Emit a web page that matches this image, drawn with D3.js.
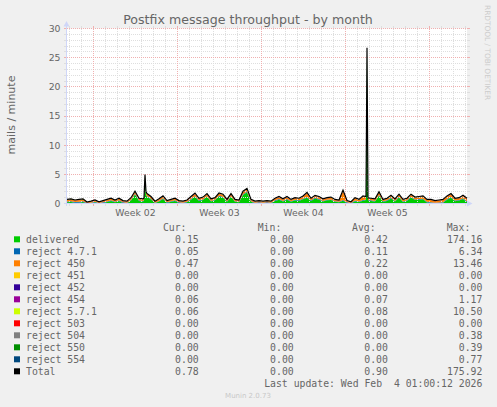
<!DOCTYPE html>
<html>
<head>
<meta charset="utf-8">
<script src="https://cdn.jsdelivr.net/npm/d3@7"></script>
<style>
  html,body{margin:0;padding:0;background:#f0f0f0;}
  svg{display:block;}
  text{font-family:"DejaVu Sans",sans-serif;fill:#666;}
  .mono{font-family:"DejaVu Sans Mono",monospace;white-space:pre;}
</style>
</head>
<body>
<svg id="chart" width="497" height="407"></svg>
<script>
// --- data (mails / minute, one sample every 8 hours) ---
var delivered = [0.2,0.25,0.13,0.15,0.26,0,0.05,0.2,0,0.1,
	0.25,0.45,0.2,0.45,0.1,0.05,0.5,1.55,0.45,0.35,
	1.2,0.7,0.07,0.35,0.76,0.1,0.3,0.45,0.1,0.05,
	0.2,0.66,1.17,0.45,0.6,1.14,0.35,0.55,1.19,1.04,
	0.3,1.14,0.3,0.2,1.47,1.92,0.3,0.05,0.1,0.05,
	0.1,0.05,0.45,0.66,0.35,0.66,0.3,0.55,0.45,0.71,
	1.0,0.45,0.86,0.66,0.35,0.55,0.6,0.3,0.2,0.47,
	0.1,0,0.4,0.25,0.46,25.97,0.45,0.35,1.32,0.3,
	0.45,0.86,0.35,1.04,0.25,0.45,1.04,0.6,0.66,0.71,
	0.16,0.11,0.05,0.06,0.11,0.66,0.99,0.4,0.5,0.76,
	0.26];
var reject471 = [0.15,0.15,0.12,0.15,0.12,0.08,0.1,0.1,0.08,0.1,
	0.1,0.1,0.1,0.1,0.1,0.1,0.12,0.12,0.1,0.1,
	0.1,0.1,0.08,0.1,0.12,0.1,0.1,0.1,0.1,0.1,
	0.1,0.12,0.12,0.1,0.1,0.12,0.1,0.1,0.12,0.12,
	0.1,0.12,0.1,0.1,0.12,0.12,0.1,0.1,0.1,0.1,
	0.1,0.1,0.1,0.12,0.1,0.12,0.1,0.1,0.1,0.12,
	0.12,0.1,0.12,0.12,0.1,0.1,0.1,0.1,0.1,0.15,
	0.1,0.08,0.1,0.1,0.12,0.15,0.1,0.1,0.12,0.1,
	0.1,0.12,0.1,0.12,0.1,0.1,0.12,0.1,0.12,0.12,
	0.12,0.12,0.1,0.12,0.12,0.12,0.12,0.1,0.1,0.12,
	0.12];
var reject450 = [0.25,0.3,0.25,0.3,0.3,0.1,0.15,0.2,0.12,0.2,
	0.25,0.25,0.2,0.25,0.2,0.15,0.25,0.3,0.25,0.25,
	0.3,0.3,0.15,0.25,0.3,0.2,0.2,0.25,0.2,0.15,
	0.2,0.3,0.35,0.25,0.3,0.3,0.25,0.25,0.35,0.3,
	0.2,0.3,0.2,0.2,0.35,0.4,0.2,0.15,0.2,0.15,
	0.2,0.15,0.25,0.3,0.25,0.3,0.2,0.25,0.25,0.35,
	0.6,0.25,0.3,0.3,0.25,0.25,0.3,0.2,0.2,1.5,
	0.2,0.12,0.4,0.25,0.6,0.4,0.25,0.25,0.4,0.2,
	0.25,0.3,0.25,0.3,0.25,0.25,0.3,0.3,0.3,0.35,
	0.3,0.35,0.25,0.3,0.35,0.4,0.45,0.3,0.3,0.4,
	0.4];
var reject454 = [0.05,0.05,0.05,0.05,0.06,0.03,0.05,0.05,0.05,0.05,
	0.05,0.05,0.05,0.05,0.05,0.05,0.06,0.06,0.05,0.05,
	0.05,0.05,0.05,0.05,0.06,0.05,0.05,0.05,0.05,0.05,
	0.05,0.06,0.06,0.05,0.05,0.06,0.05,0.05,0.06,0.06,
	0.05,0.06,0.05,0.05,0.06,0.06,0.05,0.05,0.05,0.05,
	0.05,0.05,0.05,0.06,0.05,0.06,0.05,0.05,0.05,0.06,
	0.06,0.05,0.06,0.06,0.05,0.05,0.05,0.05,0.05,0.08,
	0.05,0.05,0.05,0.05,0.06,0.08,0.05,0.05,0.06,0.05,
	0.05,0.06,0.05,0.06,0.05,0.05,0.06,0.05,0.06,0.06,
	0.06,0.06,0.05,0.06,0.06,0.06,0.06,0.05,0.05,0.06,
	0.06];
var reject571 = [0.05,0.05,0.05,0.05,0.06,0.04,0.05,0.05,0.05,0.05,
	0.05,0.05,0.05,0.05,0.05,0.05,0.06,0.08,0.05,0.05,
	0.05,0.05,0.05,0.05,0.06,0.05,0.05,0.05,0.05,0.05,
	0.05,0.06,0.1,0.05,0.05,0.08,0.05,0.05,0.08,0.08,
	0.05,0.08,0.05,0.05,0.1,0.1,0.05,0.05,0.05,0.05,
	0.05,0.05,0.05,0.06,0.05,0.06,0.05,0.05,0.05,0.06,
	0.12,0.05,0.06,0.06,0.05,0.05,0.05,0.05,0.05,0.1,
	0.05,0.05,0.05,0.05,0.06,0.1,0.05,0.05,0.1,0.05,
	0.05,0.06,0.05,0.08,0.05,0.05,0.08,0.05,0.06,0.06,
	0.06,0.06,0.05,0.06,0.06,0.06,0.08,0.05,0.05,0.06,
	0.06];

// extra 2-hourly samples around the two spikes (hours from start)
var extraHours     = [154,156,158,598,602];
var extraDelivered = [0.5,4.4,1.5,0.6,0.5];
var extra471       = [0.1,0.12,0.1,0.1,0.1];
var extra450       = [0.25,0.3,0.3,0.4,0.25];
var extra454       = [0.05,0.06,0.05,0.05,0.05];
var extra571       = [0.05,0.08,0.06,0.05,0.05];

var yTicks = [0,5,10,15,20,25,30];
var weekLabels = ['Week 02','Week 03','Week 04','Week 05'];

var legendNames = ['delivered','reject 4.7.1','reject 450','reject 451','reject 452','reject 454',
	'reject 5.7.1','reject 503','reject 504','reject 550','reject 554','Total'];
var legendColors = ['#00cc00','#0066b3','#ff8000','#ffcc00','#330099','#990099',
	'#ccff00','#ff0000','#808080','#008f00','#00487d','#000000'];
var curVals = ['0.15','0.05','0.47','0.00','0.00','0.06','0.06','0.00','0.00','0.00','0.00','0.78'];
var minVals = ['0.00','0.00','0.00','0.00','0.00','0.00','0.00','0.00','0.00','0.00','0.00','0.00'];
var avgVals = ['0.42','0.11','0.22','0.00','0.00','0.07','0.08','0.00','0.00','0.00','0.00','0.90'];
var maxVals = ['174.16','6.34','13.46','0.00','0.00','1.17','10.50','0.00','0.38','0.39','0.77','175.92'];

// --- setup ---
var svg = d3.select('#chart');
var HOUR = 3600*1000;
var t0 = new Date(Date.UTC(2026,0,1,19,0));
var t1 = new Date(t0.getTime() + 800*HOUR);

var xScale = d3.scaleUtc().domain([t0,t1]).range([67,467]);
var yScale = d3.scaleLinear().domain([0,30]).range([203.5,28.5]);

var stackKeys = ['delivered','reject471','reject450','reject454','reject571'];
var stackColors = ['#00cc00','#0066b3','#ff8000','#990099','#ccff00'];

var rows = delivered.map(function(d,i){
	return {
		t: new Date(t0.getTime() + i*8*HOUR),
		delivered: d,
		reject471: reject471[i],
		reject450: reject450[i],
		reject454: reject454[i],
		reject571: reject571[i]
	};
});
extraHours.forEach(function(h,i){
	rows.push({
		t: new Date(t0.getTime() + h*HOUR),
		delivered: extraDelivered[i],
		reject471: extra471[i],
		reject450: extra450[i],
		reject454: extra454[i],
		reject571: extra571[i]
	});
});
rows.sort(function(a,b){ return a.t - b.t; });

var stacked = d3.stack().keys(stackKeys)(rows);

// canvas
svg.append('rect')
	.attr('x',67).attr('y',28.5)
	.attr('width',400).attr('height',175)
	.attr('fill','#ffffff');

// areas
var areaGen = d3.area()
	.x(function(d){ return xScale(d.data.t); })
	.y0(function(d){ return yScale(d[0]); })
	.y1(function(d){ return yScale(d[1]); });

svg.append('g').selectAll('path')
	.data(stacked)
	.enter()
	.append('path')
	.attr('d',areaGen)
	.attr('fill',function(d,i){ return stackColors[i]; });

// grid
var grid = svg.append('g').attr('shape-rendering','crispEdges');
var minorY = d3.range(1,30).filter(function(v){ return v%5 !== 0; });

function hGrid(vals,col){
	vals.forEach(function(v){
		var yy = Math.round(yScale(v)-0.5)+0.5;
		grid.append('line').attr('x1',67).attr('x2',467).attr('y1',yy).attr('y2',yy)
			.attr('stroke',col).attr('stroke-dasharray','1,1');
		grid.append('line').attr('x1',64).attr('x2',67).attr('y1',yy).attr('y2',yy).attr('stroke',col);
		grid.append('line').attr('x1',467).attr('x2',470).attr('y1',yy).attr('y2',yy).attr('stroke',col);
	});
}
function vGrid(vals,col){
	vals.forEach(function(t){
		var xx = Math.round(xScale(t)-0.5)+0.5;
		grid.append('line').attr('x1',xx).attr('x2',xx).attr('y1',28.5).attr('y2',203.5)
			.attr('stroke',col).attr('stroke-dasharray','1,1');
		grid.append('line').attr('x1',xx).attr('x2',xx).attr('y1',26).attr('y2',28.5).attr('stroke',col);
		grid.append('line').attr('x1',xx).attr('x2',xx).attr('y1',203.5).attr('y2',206).attr('stroke',col);
	});
}
var days = d3.utcDay.range(t0,t1);
var weeks = d3.utcSunday.range(t0,t1);
hGrid(minorY,'#dedede');
vGrid(days,'#dedede');
hGrid(yTicks.slice(1),'#f0b0b0');
vGrid(weeks,'#f0b0b0');

// total line
var totalLine = d3.line()
	.x(function(d){ return xScale(d.data.t); })
	.y(function(d){ return yScale(d[1]); });
svg.append('path')
	.datum(stacked[stacked.length-1])
	.attr('d',totalLine)
	.attr('fill','none')
	.attr('stroke','#000')
	.attr('stroke-width',1.2);

// axes
var axisCol = '#cfd6f8';
svg.append('line').attr('x1',66.5).attr('x2',66.5).attr('y1',206).attr('y2',26)
	.attr('stroke',axisCol).attr('shape-rendering','crispEdges');
svg.append('line').attr('x1',64).attr('x2',468).attr('y1',203.5).attr('y2',203.5)
	.attr('stroke',axisCol).attr('shape-rendering','crispEdges');
svg.append('path').attr('d','M63.5,26.5 L69.5,26.5 L66.5,21 Z').attr('fill',axisCol);
svg.append('path').attr('d','M467,200.5 L467,206.5 L472.5,203.5 Z').attr('fill',axisCol);

// y tick labels
svg.append('g').selectAll('text')
	.data(yTicks)
	.enter()
	.append('text')
	.text(function(d){ return d; })
	.attr('x',60.5)
	.attr('y',function(d){ return yScale(d)+3.4; })
	.attr('text-anchor','end')
	.style('font-size','9.3px');

// week labels, centred in each full week
svg.append('g').selectAll('text')
	.data(weekLabels)
	.enter()
	.append('text')
	.text(function(d){ return d; })
	.attr('x',function(d,i){
		var mid = new Date(weeks[i].getTime() + 84*HOUR);
		return xScale(mid);
	})
	.attr('y',215.8)
	.attr('text-anchor','middle')
	.style('font-size','9.3px');

// title + axis label + watermark
svg.append('text')
	.text('Postfix message throughput - by month')
	.attr('x',248).attr('y',23.6)
	.attr('text-anchor','middle')
	.style('font-size','12.6px');

svg.append('text')
	.text('mails / minute')
	.attr('transform','translate(15.3,115) rotate(-90)')
	.attr('text-anchor','middle')
	.style('font-size','11px');

svg.append('text')
	.text('RRDTOOL / TOBI OETIKER')
	.attr('transform','translate(485.2,5) rotate(90)')
	.attr('text-anchor','start')
	.style('font-size','7.4px')
	.style('fill','#cccccc');

// legend
var legend = svg.append('g').style('font-size','9.8px');
var colEnds = [198.7,293.7,387.9,482.4];
var headers = ['Cur:','Min:','Avg:','Max:'];
var headEnds = [186.5,281.3,375.6,470.3];

headers.forEach(function(h,i){
	legend.append('text').attr('class','mono')
		.text(h).attr('x',headEnds[i]).attr('y',230.9).attr('text-anchor','end');
});

var rowsG = legend.selectAll('g.row')
	.data(legendNames)
	.enter()
	.append('g')
	.attr('class','row')
	.attr('transform',function(d,i){ return 'translate(0,'+(239.3+i*12)+')'; });

rowsG.append('rect')
	.attr('x',14).attr('y',-3)
	.attr('width',6).attr('height',6)
	.attr('fill',function(d,i){ return legendColors[i]; });

rowsG.append('text').attr('class','mono')
	.text(function(d){ return d; })
	.attr('x',26).attr('y',3.6);

[curVals,minVals,avgVals,maxVals].forEach(function(vals,c){
	rowsG.append('text').attr('class','mono')
		.text(function(d,i){ return vals[i]; })
		.attr('x',colEnds[c]).attr('y',3.6)
		.attr('text-anchor','end');
});

legend.append('text').attr('class','mono')
	.text('Last update: Wed Feb  4 01:00:12 2026')
	.attr('x',482.4).attr('y',387.3)
	.attr('text-anchor','end');

svg.append('text')
	.text('Munin 2.0.73')
	.attr('x',248).attr('y',398.3)
	.attr('text-anchor','middle')
	.style('font-size','7px')
	.style('fill','#c8c8c8');
</script>
</body>
</html>
